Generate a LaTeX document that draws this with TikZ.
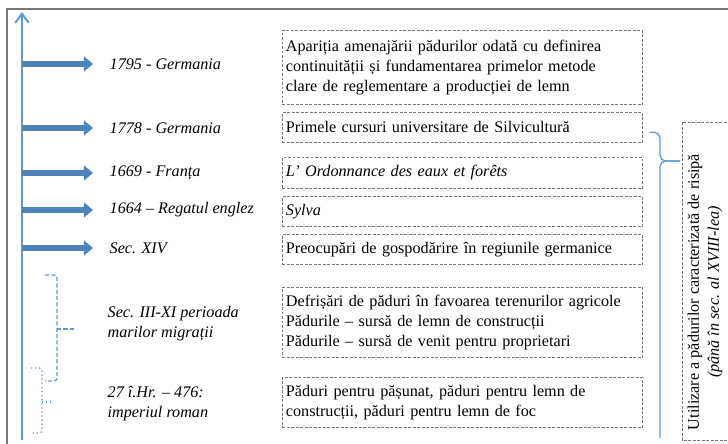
\documentclass[tikz,border=0pt]{standalone}
\usepackage{fontspec}
\setmainfont{Liberation Serif}
\usetikzlibrary{arrows.meta}
\definecolor{axblue}{RGB}{91,155,213}
\definecolor{arblue}{RGB}{79,129,189}
\definecolor{boxgray}{RGB}{120,120,120}

\begin{document}
\begin{tikzpicture}[x=0.025cm,y=-0.025cm,
  txt/.style={font=\fontsize{11.5}{14.2}\selectfont},
  yearlbl/.style={txt,anchor=west,inner sep=1pt,align=left,font=\fontsize{11.5}{14.2}\selectfont\itshape},
  evbox/.style={txt,draw=boxgray,dash pattern=on 2pt off 1.2pt,line width=0.6pt,anchor=north west,
    minimum width=9cm,text width=9cm-5pt,inner xsep=2.5pt,align=left},
  blockarrow/.style={arblue,line width=4.6pt,-{Triangle[width=10.5pt,length=6.5pt]}},
  axisline/.style={axblue,line width=1.4pt,-{Straight Barb[width=9.5pt,length=6.5pt,line width=1.4pt]}},
  bracket/.style={axblue,line width=0.9pt}]
\useasboundingbox (0,0) rectangle (728,444);
\draw[boxgray,line width=0.8pt] (7,448) -- (7,9) -- (732,9);

% time axis
\coordinate (axbot) at (22,440);
\coordinate (axtop) at (22,12);
\draw[axisline] (axbot) -- (axtop);

% periods
\node[yearlbl] (l1795) at (108,64) {1795 - Germania};
\node[yearlbl] (l1778) at (108,128) {1778 - Germania};
\node[yearlbl] (l1669) at (108,173) {1669 - Franța};
\node[yearlbl] (l1664) at (108,210) {1664 – Regatul englez};
\node[yearlbl] (lxiv) at (108,248) {Sec. XIV};
\node[yearlbl] (lmigr) at (106,324) {Sec. III-XI perioada\\marilor migrații};
\node[yearlbl] (lroman) at (106,404) {27 î.Hr. – 476:\\imperiul roman};

\foreach \l in {l1795,l1778,l1669,l1664,lxiv}
  \draw[blockarrow] (axbot |- \l.west) -- ++(71,0);

% brackets for the old periods
\draw[bracket,dash pattern=on 3pt off 1.5pt,rounded corners=2pt] (45,275) -| (57,381) -- (45,381);
\draw[bracket,dash pattern=on 3pt off 1.5pt] (57,329) -- (75,329);
\draw[bracket,dotted,rounded corners=2pt] (31,368) -| (42,433) -- (31,433);
\draw[bracket,dotted] (42,402) -- (52,402);

% events
\node[evbox,minimum height=1.85cm] (apar) at (282,30) {Apariția amenajării pădurilor odată cu definirea\\continuității și fundamentarea primelor metode\\clare de reglementare a producției de lemn};
\node[evbox,minimum height=0.75cm] (curs) at (282,112) {Primele cursuri universitare de Silvicultură};
\node[evbox,minimum height=0.77cm] (ordon) at (282,157) {\itshape L’ Ordonnance des eaux et forêts};
\node[evbox,minimum height=0.75cm] (sylva) at (282,196) {\itshape Sylva};
\node[evbox,minimum height=0.75cm] (preoc) at (282,234) {Preocupări de gospodărire în regiunile germanice};
\node[evbox,minimum height=1.75cm] (defris) at (282,287) {Defrișări de păduri în favoarea terenurilor agricole\\Pădurile – sursă de lemn de construcții\\Pădurile – sursă de venit pentru proprietari};
\node[evbox,minimum height=1.25cm] (roman) at (282,377) {Păduri pentru pășunat, păduri pentru lemn de\\construcții, păduri pentru lemn de foc};

% waste period
\draw[boxgray,dash pattern=on 2pt off 1.2pt,line width=0.6pt] (740,122) -- (682,122) -- (682,440) -- (740,440);
\node[txt,rotate=90,align=center] (risipa) at (705,292) {Utilizare a pădurilor caracterizată de risipă\\\textit{(până în sec. al XVIII-lea)}};
\coordinate (tip) at (660,161);
\draw[bracket,rounded corners=4pt] ([xshift=5pt,yshift=-3.5pt]curs.east) -| (tip) -- (680,161);
\draw[bracket,rounded corners=4pt] (660,438) -- (tip) -- (680,161);
\end{tikzpicture}
\end{document}
